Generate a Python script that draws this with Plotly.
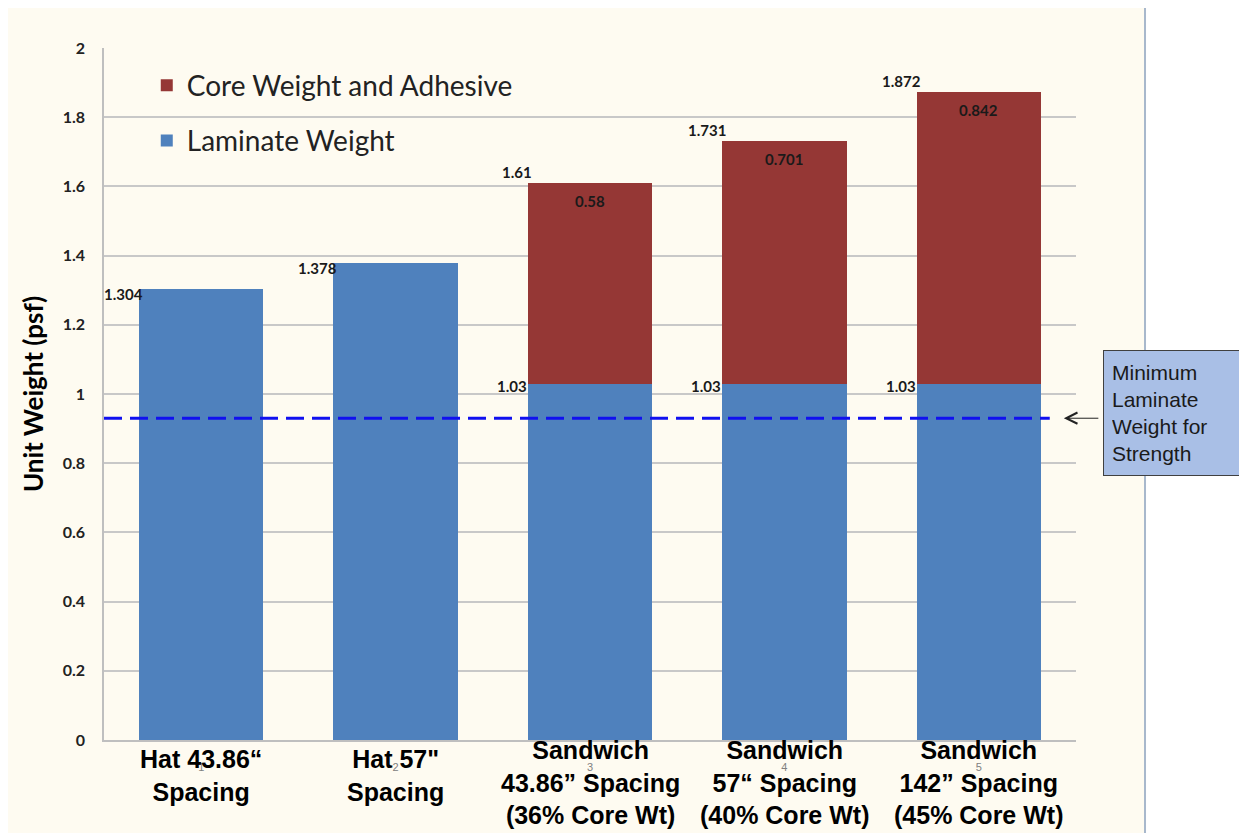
import plotly.graph_objects as go

# data
positions = [1, 2, 3, 4, 5]
tick_labels = ['1', '2', '3', '4', '5']
category_labels = [
    'Hat 43.86\u201c<br>Spacing',
    'Hat 57"<br>Spacing',
    'Sandwich<br>43.86\u201d Spacing<br>(36% Core Wt)',
    'Sandwich<br>57\u201c Spacing<br>(40% Core Wt)',
    'Sandwich<br>142\u201d Spacing<br>(45% Core Wt)',
]
laminate_weight = [1.304, 1.378, 1.03, 1.03, 1.03]
core_weight = [None, None, 0.58, 0.701, 0.842]
total_weight = [1.304, 1.378, 1.61, 1.731, 1.872]
min_laminate = 0.93

BLUE = '#4F81BD'
RED = '#953735'
CREAM = '#FEFBF1'
BAR_WIDTH = 0.64
LABEL_FONT = dict(family='Lato', size=15, color='#1a1a1a', weight='bold')

fig = go.Figure()
fig.add_trace(go.Bar(
    x=positions, y=laminate_weight, name='Laminate Weight',
    marker=dict(color=BLUE, line=dict(width=0)), width=BAR_WIDTH,
    legendgroup='lam', legendrank=2, hoverinfo='y'
))
fig.add_trace(go.Bar(
    x=positions, y=core_weight, name='Core Weight and Adhesive',
    marker=dict(color=RED, line=dict(width=0)), width=BAR_WIDTH,
    legendgroup='core', legendrank=1, hoverinfo='y'
))

annotations = []
# value labels
for i, x in enumerate(positions):
    left = x - BAR_WIDTH / 2
    if core_weight[i] is None:
        annotations.append(dict(
            x=left, y=total_weight[i], xref='x', yref='y', text=str(total_weight[i]),
            showarrow=False, xanchor='right', yanchor='middle',
            xshift=6, yshift=-5, font=LABEL_FONT
        ))
    else:
        annotations.append(dict(
            x=left, y=total_weight[i], xref='x', yref='y', text=str(total_weight[i]),
            showarrow=False, xanchor='right', yanchor='bottom',
            xshift=6, yshift=0, font=LABEL_FONT
        ))
        annotations.append(dict(
            x=left, y=laminate_weight[i], xref='x', yref='y', text=str(laminate_weight[i]),
            showarrow=False, xanchor='right', yanchor='middle', xshift=1, yshift=-2,
            font=LABEL_FONT
        ))
        annotations.append(dict(
            x=x, y=total_weight[i], xref='x', yref='y', text=str(core_weight[i]),
            showarrow=False, xanchor='center', yanchor='top', yshift=-7, font=LABEL_FONT
        ))
    # category labels
    n_lines = category_labels[i].count('<br>') + 1
    annotations.append(dict(
        x=x, y=0, xref='x', yref='paper', text=category_labels[i],
        showarrow=False, xanchor='center', yanchor='top',
        yshift=6 if n_lines == 3 else -3,
        font=dict(family='Liberation Sans', size=25, color='black', weight='bold')
    ))

# callout for minimum laminate weight
annotations.append(dict(
    x=1.0, y=0.945, xref='paper', yref='y', xanchor='left', yanchor='middle',
    xshift=27,
    text='Minimum<br>Laminate<br>Weight for<br>Strength', showarrow=False, align='left',
    bgcolor='#A9BFE6', bordercolor='#404040', borderwidth=1, borderpad=8,
    width=125, height=108, valign='middle',
    font=dict(family='Liberation Sans', size=21, color='#1a1a1a')
))
annotations.append(dict(
    x=0.9875, y=min_laminate, xref='paper', yref='y', text='', showarrow=True,
    ax=36, ay=0, arrowhead=5, arrowsize=2.2, arrowwidth=1, arrowcolor='#222222'
))

shapes = [
    # chart area background
    dict(type='rect', xref='paper', yref='paper', x0=-0.1008, x1=1.071, y0=-0.2, y1=1.0607,
         fillcolor=CREAM, line=dict(color='#A8B8CC', width=2), layer='below'),
    # minimum laminate weight line
    dict(type='line', xref='paper', yref='y', x0=0, x1=0.973, y0=min_laminate, y1=min_laminate,
         line=dict(color='#1010F0', width=3, dash='18px,8px'), layer='above'),
]

# the page adds an 8px body margin, so the figure is 8px smaller than the window
fig.update_layout(
    width=1239, height=825,
    barmode='stack', bargap=0.36,
    paper_bgcolor='white', plot_bgcolor=CREAM,
    margin=dict(l=96, r=171, t=40, b=93),
    showlegend=True,
    legend=dict(
        x=0.044, y=0.982, xanchor='left', yanchor='top',
        traceorder='grouped', tracegroupgap=16,
        bgcolor='rgba(0,0,0,0)',
        font=dict(family='Lato', size=28, color='#222222')
    ),
    xaxis=dict(
        range=[0.5, 5.5], tickvals=positions, ticktext=tick_labels,
        tickfont=dict(family='Liberation Sans', size=11, color='#808080'),
        ticks='', ticklabelstandoff=16, showgrid=False,
        showline=True, linecolor='#BFBFBF', linewidth=1.5, zeroline=False
    ),
    yaxis=dict(
        range=[0, 2], dtick=0.2, tick0=0,
        showgrid=True, gridcolor='#C8C8C8', gridwidth=1.5,
        showline=True, linecolor='#BFBFBF', linewidth=1.5, zeroline=False,
        ticks='', ticklabelstandoff=14,
        tickfont=dict(family='Lato', size=16, color='#222222', weight='bold'),
        title=dict(text='Unit Weight (psf)', standoff=12,
                   font=dict(family='Lato', size=26, color='black', weight='bold'))
    ),
    annotations=annotations,
    shapes=shapes,
)

fig.write_html('out.html')
